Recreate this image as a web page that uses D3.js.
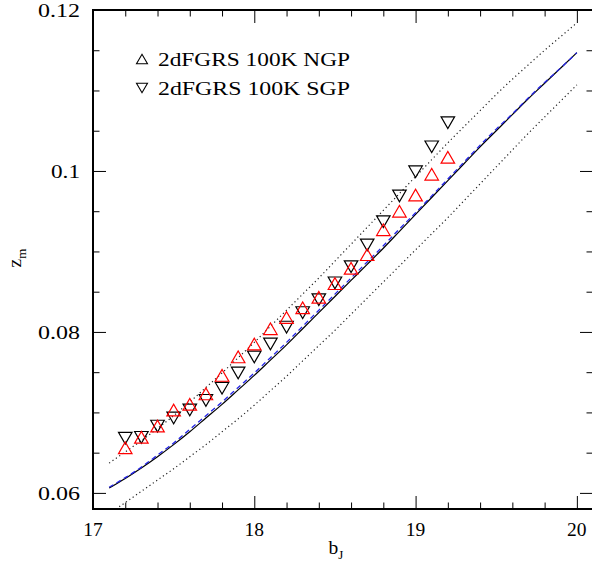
<!DOCTYPE html>
<html>
<head>
<meta charset="utf-8">
<script src="https://cdn.jsdelivr.net/npm/d3@7"></script>
<style>
  html, body { margin: 0; padding: 0; background: #fff; }
  svg { display: block; }
  text { font-family: "Liberation Serif", "DejaVu Serif", serif; fill: #000; }
</style>
</head>
<body>
<svg id="chart" width="592" height="570"></svg>
<script>
// Median redshift vs. apparent magnitude limit
const magBins = [17.2, 17.3, 17.4, 17.5, 17.6, 17.7, 17.8, 17.9, 18.0, 18.1, 18.2,
                 18.3, 18.4, 18.5, 18.6, 18.7, 18.8, 18.9, 19.0, 19.1, 19.2];
const zNGP = [0.0656, 0.0669, 0.0683, 0.0703, 0.0710, 0.0723, 0.0746, 0.0769, 0.0785, 0.0804, 0.0818,
              0.0830, 0.0843, 0.0860, 0.0879, 0.0896, 0.0927, 0.0950, 0.0970, 0.0996, 0.1017];
const zSGP = [0.0668, 0.0669, 0.0683, 0.0693, 0.0703, 0.0715, 0.0730, 0.0749, 0.0769, 0.0785, 0.0806,
              0.0824, 0.0840, 0.0861, 0.0881, 0.0908, 0.0937, 0.0969, 0.0999, 0.1030, 0.1060];

// Model curves sampled on a magnitude grid
const modelMag = [17.1, 17.2, 17.3, 17.4, 17.5, 17.6, 17.7, 17.8, 17.9, 18.0,
                  18.1, 18.2, 18.3, 18.4, 18.5, 18.6, 18.7, 18.8, 18.9, 19.0,
                  19.1, 19.2, 19.3, 19.4, 19.5, 19.6, 19.7, 19.8, 19.9, 20.0];
const zModel = [0.0606, 0.0618, 0.0631, 0.0645, 0.0660, 0.0676, 0.0693, 0.0710, 0.0728, 0.0746,
                0.0765, 0.0784, 0.0804, 0.0824, 0.0844, 0.0864, 0.0884, 0.0904, 0.0925, 0.0946,
                0.0967, 0.0988, 0.1009, 0.1030, 0.1050, 0.1070, 0.1090, 0.1109, 0.1128, 0.1147];
const zModelAlt = [0.0607, 0.0619, 0.0632, 0.0647, 0.0662, 0.0679, 0.0696, 0.0713, 0.0731, 0.0749,
                   0.0768, 0.0787, 0.0807, 0.0827, 0.0847, 0.0867, 0.0887, 0.0907, 0.0928, 0.0948,
                   0.0969, 0.0990, 0.1011, 0.1032, 0.1052, 0.1071, 0.1091, 0.1110, 0.1128, 0.1147];
const zUpper = [0.0637, 0.0651, 0.0665, 0.0680, 0.0696, 0.0713, 0.0731, 0.0749, 0.0768, 0.0787,
                0.0807, 0.0827, 0.0847, 0.0867, 0.0888, 0.0909, 0.0930, 0.0951, 0.0972, 0.0993,
                0.1014, 0.1035, 0.1055, 0.1075, 0.1095, 0.1114, 0.1132, 0.1150, 0.1167, 0.1184];
const zLower = [0.0574, 0.0588, 0.0602, 0.0616, 0.0630, 0.0645, 0.0660, 0.0676, 0.0692, 0.0709,
                0.0727, 0.0745, 0.0764, 0.0783, 0.0802, 0.0822, 0.0842, 0.0862, 0.0882, 0.0902,
                0.0922, 0.0942, 0.0963, 0.0984, 0.1005, 0.1026, 0.1047, 0.1067, 0.1087, 0.1107];

const xMajorTicks = [17, 18, 19, 20];
const xTickLabels = ["17", "18", "19", "20"];
const yMajorTicks = [0.06, 0.08, 0.10, 0.12];
const yTickLabels = ["0.06", "0.08", "0.1", "0.12"];
const legendLabels = ["2dFGRS 100K NGP", "2dFGRS 100K SGP"];

const svg = d3.select("#chart");
const plotLeft = 93, plotRight = 593, plotTop = 10, plotBottom = 509;

const x = d3.scaleLinear().domain([17, 20.1]).range([plotLeft, plotRight]);
const y = d3.scaleLinear().domain([0.058, 0.12]).range([plotBottom, plotTop]);

svg.append("defs").append("clipPath").attr("id", "plotClip")
  .append("rect").attr("x", plotLeft).attr("y", plotTop)
  .attr("width", plotRight - plotLeft).attr("height", plotBottom - plotTop);

const plot = svg.append("g").attr("clip-path", "url(#plotClip)");

// Curves
const line = d3.line().x(d => x(d[0])).y(d => y(d[1])).curve(d3.curveMonotoneX);
const pairs = arr => modelMag.map((m, i) => [m, arr[i]]);

plot.append("path").datum(pairs(zUpper)).attr("d", line)
  .attr("fill", "none").attr("stroke", "#222").attr("stroke-width", 1.2)
  .attr("stroke-dasharray", "1.2,2.9");
plot.append("path").datum(pairs(zLower)).attr("d", line)
  .attr("fill", "none").attr("stroke", "#222").attr("stroke-width", 1.2)
  .attr("stroke-dasharray", "1.2,2.9");
plot.append("path").datum(pairs(zModel)).attr("d", line)
  .attr("fill", "none").attr("stroke", "#000").attr("stroke-width", 1.2);
plot.append("path").datum(pairs(zModelAlt)).attr("d", line)
  .attr("fill", "none").attr("stroke", "#2424e6").attr("stroke-width", 1.3)
  .attr("stroke-dasharray", "5,3.5");

// Triangle markers (centred on their bounding box)
function triPath(cx, cy, w, up) {
  const h = w * Math.sqrt(3) / 2;
  if (up) return `M${cx - w / 2},${cy + h / 2}L${cx + w / 2},${cy + h / 2}L${cx},${cy - h / 2}Z`;
  return `M${cx - w / 2},${cy - h / 2}L${cx + w / 2},${cy - h / 2}L${cx},${cy + h / 2}Z`;
}

plot.append("g").selectAll("path").data(magBins.map((m, i) => [m, zSGP[i]])).join("path")
  .attr("d", d => triPath(x(d[0]), y(d[1]), 13.5, false))
  .attr("fill", "none").attr("stroke", "#000").attr("stroke-width", 1.2);
plot.append("g").selectAll("path").data(magBins.map((m, i) => [m, zNGP[i]])).join("path")
  .attr("d", d => triPath(x(d[0]), y(d[1]), 13.5, true))
  .attr("fill", "none").attr("stroke", "#ff0000").attr("stroke-width", 1.2);

// Frame and ticks
svg.append("rect").attr("x", plotLeft).attr("y", plotTop)
  .attr("width", plotRight - plotLeft).attr("height", plotBottom - plotTop)
  .attr("fill", "none").attr("stroke", "#000").attr("stroke-width", 2);

const xMinor = d3.range(17, 20.1 + 1e-9, 0.2).filter(v => !xMajorTicks.some(t => Math.abs(t - v) < 1e-6));
const yMinor = d3.range(0.06, 0.12 + 1e-9, 0.005).filter(v => !yMajorTicks.some(t => Math.abs(t - v) < 1e-6));

function tickAxis(axisFn, scale, vals, size, transform) {
  const g = svg.append("g").attr("transform", transform)
    .call(axisFn(scale).tickValues(vals).tickSize(-size).tickFormat(""));
  g.select(".domain").remove();
  g.selectAll(".tick line").attr("stroke", "#000").attr("stroke-width", 1);
}
tickAxis(d3.axisBottom, x, xMajorTicks, 13, `translate(0,${plotBottom})`);
tickAxis(d3.axisBottom, x, xMinor, 6.5, `translate(0,${plotBottom})`);
tickAxis(d3.axisTop, x, xMajorTicks, 13, `translate(0,${plotTop})`);
tickAxis(d3.axisTop, x, xMinor, 6.5, `translate(0,${plotTop})`);
tickAxis(d3.axisLeft, y, yMajorTicks, 13, `translate(${plotLeft},0)`);
tickAxis(d3.axisLeft, y, yMinor, 6.5, `translate(${plotLeft},0)`);
tickAxis(d3.axisRight, y, yMajorTicks, 13, `translate(${plotRight},0)`);
tickAxis(d3.axisRight, y, yMinor, 6.5, `translate(${plotRight},0)`);

// Tick labels
const fs = 19.5;
svg.append("g").selectAll("text").data(xMajorTicks).join("text")
  .attr("x", d => x(d)).attr("y", 536)
  .attr("text-anchor", "middle").attr("font-size", fs)
  .text((d, i) => xTickLabels[i]);

svg.append("g").selectAll("text").data(yMajorTicks).join("text")
  .attr("x", 80).attr("y", d => y(d) + 7)
  .attr("text-anchor", "end").attr("font-size", fs)
  .attr("textLength", (d, i) => yTickLabels[i].length === 4 ? 42 : 29)
  .attr("lengthAdjust", "spacingAndGlyphs")
  .text((d, i) => yTickLabels[i]);

// Axis titles
const xt = svg.append("text").attr("x", 336).attr("y", 554)
  .attr("text-anchor", "middle").attr("font-size", fs);
xt.append("tspan").text("b");
xt.append("tspan").attr("font-size", 13).attr("dy", 5).text("J");

const yt = svg.append("text").attr("transform", "translate(21,258) rotate(-90)")
  .attr("text-anchor", "middle").attr("font-size", fs);
yt.append("tspan").text("z");
yt.append("tspan").attr("font-size", 13).attr("dy", 5).text("m");

// Legend
const legend = svg.append("g");
legendLabels.forEach((lab, i) => {
  const cy = 59 + i * 29;
  legend.append("path").attr("d", triPath(142, cy, 11, i === 0))
    .attr("fill", "none").attr("stroke", "#000").attr("stroke-width", 1.1);
  legend.append("text").attr("x", 158).attr("y", cy + 6.5)
    .attr("font-size", fs).attr("textLength", 192).attr("lengthAdjust", "spacingAndGlyphs")
    .text(lab);
});
</script>
</body>
</html>
